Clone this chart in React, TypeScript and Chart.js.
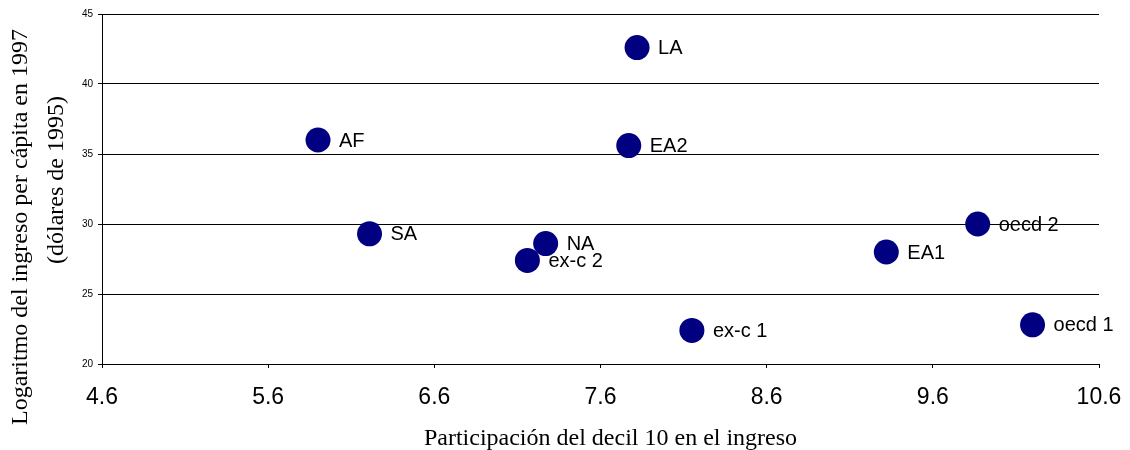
import React, { useEffect, useRef } from "react";
import { Chart, registerables } from "chart.js";

Chart.register(...registerables);

const pointLabels = ["AF", "SA", "LA", "EA2", "NA", "ex-c 2", "ex-c 1", "EA1", "oecd 2", "oecd 1"];
const xValues = [5.9, 6.21, 7.82, 7.77, 7.27, 7.16, 8.15, 9.32, 9.87, 10.2];
const yValues = [36.0, 29.3, 42.6, 35.6, 28.6, 27.4, 22.4, 28.0, 30.0, 22.8];
const xTicks = [4.6, 5.6, 6.6, 7.6, 8.6, 9.6, 10.6];
const yTicks = [20, 25, 30, 35, 40, 45];
const xTitle = "Participación del decil 10 en el ingreso";
const yTitleLines = ["Logaritmo del ingreso per cápita en 1997", "(dólares de 1995)"];

const SANS = "'Liberation Sans', Arial, sans-serif";
const SERIF = "'Liberation Serif', 'Times New Roman', serif";

const labelPlugin = {
  id: "pointLabelsAndTitles",
  afterDatasetsDraw(chart: any) {
    const ctx = chart.ctx;
    const meta = chart.getDatasetMeta(0);
    ctx.save();
    ctx.fillStyle = "#000";
    ctx.font = `20px ${SANS}`;
    ctx.textAlign = "left";
    ctx.textBaseline = "middle";
    meta.data.forEach((el: any, i: number) => {
      ctx.fillText(pointLabels[i], el.x + 21, el.y + 1);
    });
    ctx.restore();
  },
  afterDraw(chart: any) {
    const ctx = chart.ctx;
    const area = chart.chartArea;
    ctx.save();
    ctx.fillStyle = "#000";
    ctx.font = `24px ${SERIF}`;
    ctx.textAlign = "center";
    ctx.textBaseline = "alphabetic";
    ctx.fillText(xTitle, (area.left + area.right) / 2 + 10, 445);
    ctx.save();
    ctx.translate(27, 227);
    ctx.rotate(-Math.PI / 2);
    ctx.fillText(yTitleLines[0], 0, 0);
    ctx.restore();
    ctx.save();
    ctx.translate(63, 180);
    ctx.rotate(-Math.PI / 2);
    ctx.fillText(yTitleLines[1], 0, 0);
    ctx.restore();
    ctx.restore();
  },
};

export default function App() {
  const canvasRef = useRef<HTMLCanvasElement | null>(null);

  useEffect(() => {
    if (!canvasRef.current) return;
    const chart = new Chart(canvasRef.current, {
      type: "scatter",
      data: {
        datasets: [
          {
            label: "regiones",
            data: xValues.map((x, i) => ({ x, y: yValues[i] })),
            backgroundColor: "#000080",
            borderColor: "#000080",
            borderWidth: 0,
            pointRadius: 12.5,
            pointHoverRadius: 12.5,
            clip: false as any,
          },
        ],
      },
      options: {
        responsive: false,
        animation: false,
        events: [],
        layout: { padding: { top: 14, right: 31, left: 0, bottom: 0 } },
        plugins: {
          legend: { display: false },
          tooltip: { enabled: false },
          title: { display: false },
        },
        scales: {
          x: {
            type: "linear",
            min: 4.6,
            max: 10.6,
            afterBuildTicks: (scale: any) => {
              scale.ticks = xTicks.map((v) => ({ value: v }));
            },
            afterFit: (scale: any) => {
              scale.height = 86;
              scale.paddingLeft = 0;
              scale.paddingRight = 0;
            },
            ticks: {
              color: "#000",
              font: { family: SANS, size: 23 },
              padding: 16,
              maxRotation: 0,
              autoSkip: false,
              callback: (v: any) => Number(v).toFixed(1),
            },
            grid: {
              drawOnChartArea: false,
              drawTicks: true,
              tickLength: 4,
              color: "#000",
              lineWidth: 1,
            },
            border: { display: true, color: "#000", width: 1 },
            title: { display: false },
          },
          y: {
            type: "linear",
            min: 20,
            max: 45,
            afterBuildTicks: (scale: any) => {
              scale.ticks = yTicks.map((v) => ({ value: v }));
            },
            afterFit: (scale: any) => {
              scale.width = 102;
              scale.paddingTop = 0;
              scale.paddingBottom = 0;
            },
            ticks: {
              color: "#000",
              font: { family: SANS, size: 10 },
              padding: 5,
              autoSkip: false,
            },
            grid: {
              drawOnChartArea: true,
              drawTicks: true,
              tickLength: 4,
              color: "#000",
              lineWidth: 1,
            },
            border: { display: true, color: "#000", width: 1 },
            title: { display: false },
          },
        },
      },
      plugins: [labelPlugin],
    });
    return () => chart.destroy();
  }, []);

  return (
    <div style={{ position: "absolute", left: 0, top: 0, width: 1130, height: 450, background: "#fff" }}>
      <canvas ref={canvasRef} width={1130} height={450} style={{ width: 1130, height: 450, display: "block" }} />
    </div>
  );
}
